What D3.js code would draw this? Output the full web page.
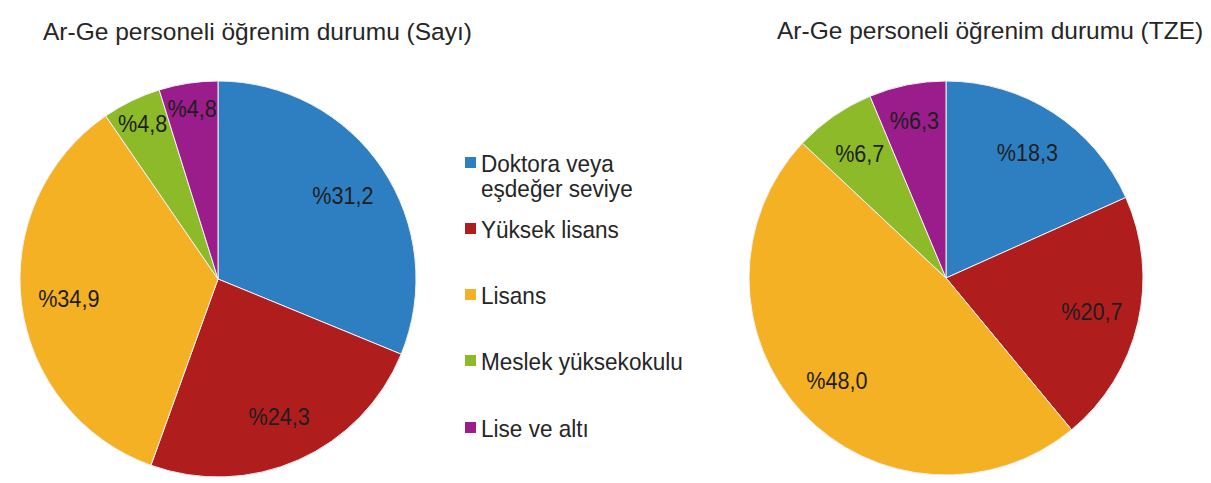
<!DOCTYPE html>
<html>
<head>
<meta charset="utf-8">
<script src="https://cdn.jsdelivr.net/npm/d3@7"></script>
<style>
  html, body { margin: 0; padding: 0; background: #ffffff; }
  svg { display: block; font-family: "Liberation Sans", Arial, sans-serif; }
</style>
</head>
<body>
<svg id="chart" width="1211" height="483"></svg>
<script>
// Education levels of R&D personnel
const categories = [
  "Doktora veya eşdeğer seviye",
  "Yüksek lisans",
  "Lisans",
  "Meslek yüksekokulu",
  "Lise ve altı"
];
// Legend lines (the first entry wraps onto two lines)
const legendLines = [
  ["Doktora veya", "eşdeğer seviye"],
  ["Yüksek lisans"],
  ["Lisans"],
  ["Meslek yüksekokulu"],
  ["Lise ve altı"]
];
// Shares by headcount (%)
const countShares = [31.2, 24.3, 34.9, 4.8, 4.8];
// Shares by full-time equivalent (%)
const fteShares = [18.3, 20.7, 48.0, 6.7, 6.3];
const titles = [
  "Ar-Ge personeli öğrenim durumu (Sayı)",
  "Ar-Ge personeli öğrenim durumu (TZE)"
];
const palette = ["#2e7ec2", "#b01d1d", "#f5b124", "#8cba28", "#9b1d8c"];

const svg = d3.select("#chart");
const color = d3.scaleOrdinal().domain(categories).range(palette);
const fmt = v => "%" + d3.format(".1f")(v).replace(".", ",");

const pie = d3.pie().sort(null).value(d => d.value);

// The typeface is slightly narrow, so text is drawn with a horizontal squeeze.
const LABEL_SIZE = 24, LABEL_SX = 0.9;
const LEGEND_SIZE = 24, LEGEND_SX = 0.94;

function drawPie(values, title, cx, cy, radius, titleX, titleY) {
  svg.append("text")
    .attr("x", titleX)
    .attr("y", titleY)
    .attr("font-size", 24.5)
    .attr("fill", "#262626")
    .text(title);

  const data = categories.map((c, i) => ({ cat: c, value: values[i] }));
  const arcs = pie(data);
  const arc = d3.arc().innerRadius(0).outerRadius(radius);
  const g = svg.append("g").attr("transform", `translate(${cx},${cy})`);

  g.selectAll("path.slice")
    .data(arcs)
    .join("path")
    .attr("class", "slice")
    .attr("d", arc)
    .attr("fill", d => color(d.data.cat))
    .attr("stroke", "#f4f0f6")
    .attr("stroke-width", 1);

  const labels = g.selectAll("text.lbl")
    .data(arcs)
    .join("text")
    .attr("class", "lbl")
    .attr("font-size", LABEL_SIZE)
    .attr("fill", "#1e1e1e")
    .attr("text-anchor", "middle")
    .attr("dominant-baseline", "central")
    .text(d => fmt(d.data.value));

  // Labels sit at 0.76 r; narrow slices push theirs outward until the text fits.
  labels.each(function(d) {
    const w = this.getComputedTextLength() * LABEL_SX + 14;
    const half = (d.endAngle - d.startAngle) / 2;
    let r = radius * 0.76;
    const chord = 2 * r * Math.sin(half);
    if (chord < w) r = Math.min(radius * 0.87, w / (2 * Math.sin(half)));
    const a = (d.startAngle + d.endAngle) / 2;
    const x = r * Math.sin(a), y = -r * Math.cos(a);
    d3.select(this)
      .attr("transform", `translate(${x},${y}) scale(${LABEL_SX},1)`);
  });
}

drawPie(countShares, titles[0], 218, 279, 198, 43, 40);
drawPie(fteShares, titles[1], 946, 278, 197, 777, 39);

// Legend between the two pies
const legend = svg.append("g").attr("transform", "translate(465,0)");
const legendY = [172, 238, 304, 370, 437];
categories.forEach((c, i) => {
  const row = legend.append("g");
  row.append("rect")
    .attr("x", 0)
    .attr("y", legendY[i] - 15)
    .attr("width", 11)
    .attr("height", 11)
    .attr("fill", color(c));
  legendLines[i].forEach((line, j) => {
    row.append("text")
      .attr("transform", `translate(16,${legendY[i] + j * 25}) scale(${LEGEND_SX},1)`)
      .attr("font-size", LEGEND_SIZE)
      .attr("fill", "#262626")
      .text(line);
  });
});
</script>
</body>
</html>
